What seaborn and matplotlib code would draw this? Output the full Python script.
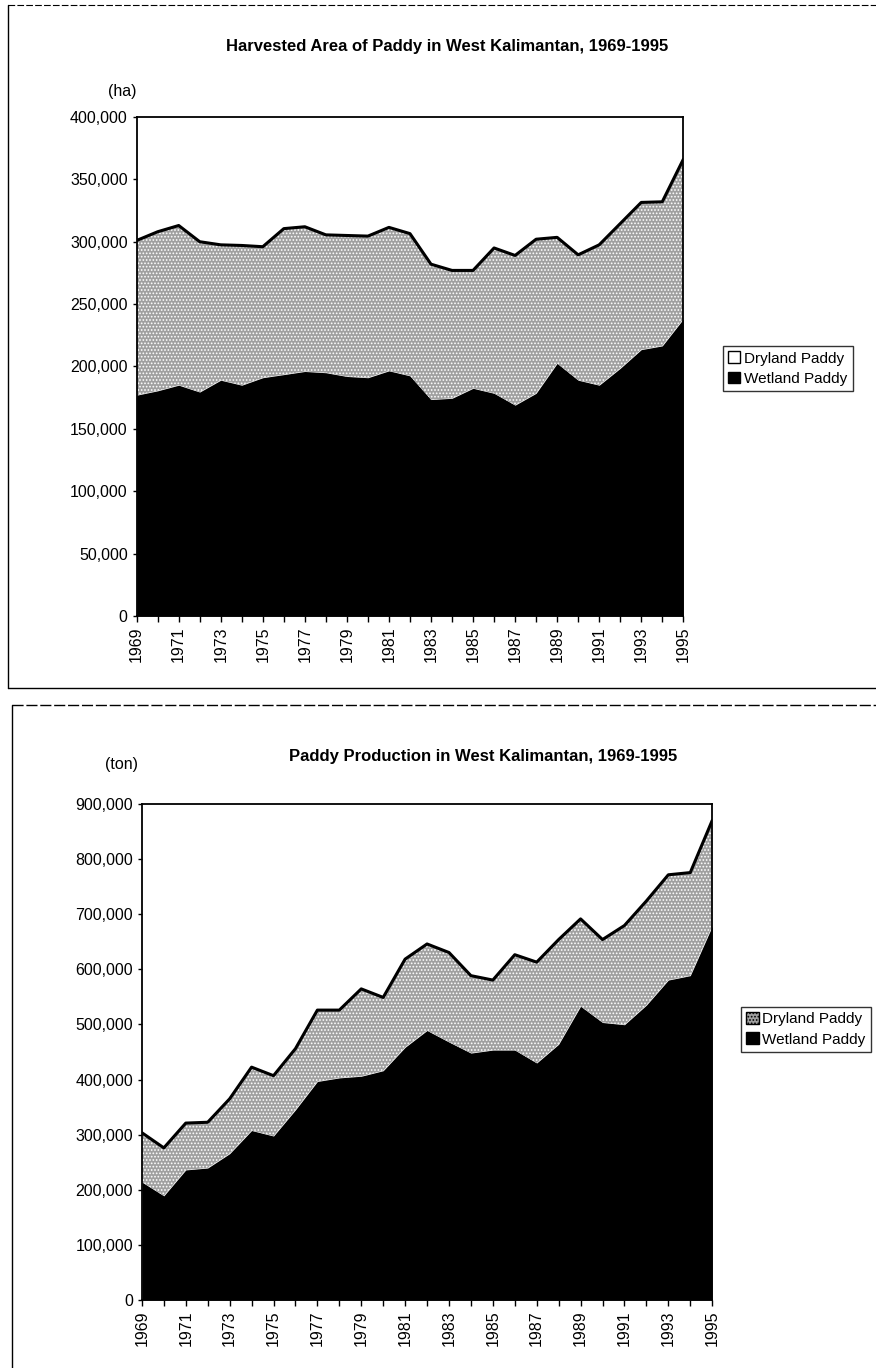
import numpy as np
import pandas as pd
import matplotlib
matplotlib.use("Agg")
import matplotlib.pyplot as plt
from matplotlib.lines import Line2D
from matplotlib.patches import Patch
from matplotlib.ticker import FuncFormatter
import seaborn as sns

# data
years = list(range(1969, 1996))

area_total = [301000, 308000, 313000, 300000, 297500, 297000, 296000, 310500, 312000, 305500,
              305000, 304500, 311500, 306500, 282000, 277000, 277000, 295000, 289000, 302000,
              303500, 289500, 297500, 314500, 331500, 332000, 366000]
area_wetland = [177000, 180500, 185000, 179500, 189000, 185000, 191000, 193500, 196000, 195000,
                192000, 191000, 196500, 192500, 173500, 174500, 182500, 178500, 169000, 178500,
                202500, 189000, 185000, 198500, 213500, 216500, 238000]

prod_total = [303500, 276000, 321000, 322500, 365000, 422500, 407000, 456000, 526000, 526000,
              564500, 549000, 618500, 646000, 630500, 588500, 580500, 626500, 613000, 654000,
              691500, 654000, 679500, 724000, 771500, 775500, 870000]
prod_wetland = [214000, 189000, 236000, 239500, 265500, 307500, 297500, 345000, 396500, 403000,
                406000, 416000, 458500, 489000, 468000, 448000, 453500, 453500, 430000, 464000,
                533000, 503500, 499500, 535000, 580500, 588500, 678000]

df_area = pd.DataFrame({"year": years, "Wetland Paddy": area_wetland,
                        "Dryland Paddy": np.array(area_total) - np.array(area_wetland),
                        "total": area_total})
df_prod = pd.DataFrame({"year": years, "Wetland Paddy": prod_wetland,
                        "Dryland Paddy": np.array(prod_total) - np.array(prod_wetland),
                        "total": prod_total})

sns.set_style("ticks")
plt.rcParams['font.family'] = ['Liberation Sans', 'DejaVu Sans']
plt.rcParams['text.color'] = 'black'
plt.rcParams['xtick.color'] = 'black'
plt.rcParams['ytick.color'] = 'black'
plt.rcParams['hatch.color'] = '#3a3a3a'
plt.rcParams['hatch.linewidth'] = 0.8

fig = plt.figure(figsize=(8.76, 13.68), dpi=100)

DRY = '#a0a0a0'
WET = '#000000'


def draw_panel(ax, df, ymax, ystep, dry_legend_face):
    ax.stackplot(df["year"], df["Wetland Paddy"], df["Dryland Paddy"],
                 colors=[WET, DRY], linewidth=0)
    # stipple texture on the dryland band
    ax.collections[1].set_hatch('.....')
    sns.lineplot(data=df, x="year", y="total", color='black', linewidth=2.2, ax=ax, legend=False)

    ax.set_xlim(1969, 1995)
    ax.set_ylim(0, ymax)
    ax.set_xticks(years)
    ax.set_xticklabels([str(y) if (y - 1969) % 2 == 0 else '' for y in years],
                       rotation=90, fontsize=11.5)
    ax.set_yticks(np.arange(0, ymax + 1, ystep))
    ax.yaxis.set_major_formatter(FuncFormatter(lambda v, p: f"{int(v):,}"))
    ax.tick_params(axis='y', labelsize=11.5, length=3, width=1)
    ax.tick_params(axis='x', length=4, width=1)
    ax.set_xlabel('')
    ax.set_ylabel('')
    for s in ax.spines.values():
        s.set_linewidth(1.3)
        s.set_color('black')

    handles = [Patch(facecolor=dry_legend_face, edgecolor='black',
                     hatch='.....' if dry_legend_face != 'white' else None, label='Dryland Paddy'),
               Patch(facecolor=WET, edgecolor='black', label='Wetland Paddy')]
    return handles


legend_kw = dict(loc='upper left', fontsize=11, frameon=True, fancybox=False, edgecolor='black',
                 handlelength=0.8, handleheight=0.8, handletextpad=0.25, borderpad=0.35,
                 labelspacing=0.4, borderaxespad=0)

# top panel: harvested area
ax1 = fig.add_axes([0.156, 0.5497, 0.624, 0.3648])
h1 = draw_panel(ax1, df_area, 400000, 50000, 'white')
leg1 = fig.legend(handles=h1, bbox_to_anchor=(0.825, 0.747), **legend_kw)
leg1.get_frame().set_linewidth(1.0)
fig.text(0.51, 0.966, 'Harvested Area of Paddy in West Kalimantan, 1969-1995',
         ha='center', va='center', fontsize=12, fontweight='bold')
fig.text(0.139, 0.933, '(ha)', ha='center', va='center', fontsize=11.5)

# bottom panel: production
ax2 = fig.add_axes([0.162, 0.0497, 0.651, 0.3626])
h2 = draw_panel(ax2, df_prod, 900000, 100000, DRY)
leg2 = fig.legend(handles=h2, bbox_to_anchor=(0.846, 0.264), **legend_kw)
leg2.get_frame().set_linewidth(1.0)
fig.text(0.551, 0.447, 'Paddy Production in West Kalimantan, 1969-1995',
         ha='center', va='center', fontsize=12, fontweight='bold')
fig.text(0.139, 0.441, '(ton)', ha='center', va='center', fontsize=11.5)

# scanned page frame lines
fig.add_artist(Line2D([0.009, 0.009], [0.497, 0.996], color='black', linewidth=1))
fig.add_artist(Line2D([0.009, 1.0], [0.996, 0.996], color='black', linewidth=0.8, linestyle=(0, (6, 2))))
fig.add_artist(Line2D([0.009, 1.0], [0.497, 0.497], color='black', linewidth=1))
fig.add_artist(Line2D([0.014, 1.0], [0.485, 0.485], color='black', linewidth=1, linestyle=(0, (8, 2))))
fig.add_artist(Line2D([0.014, 0.014], [0.0, 0.485], color='black', linewidth=1))

fig.savefig('out.png', dpi=100, facecolor='white')
